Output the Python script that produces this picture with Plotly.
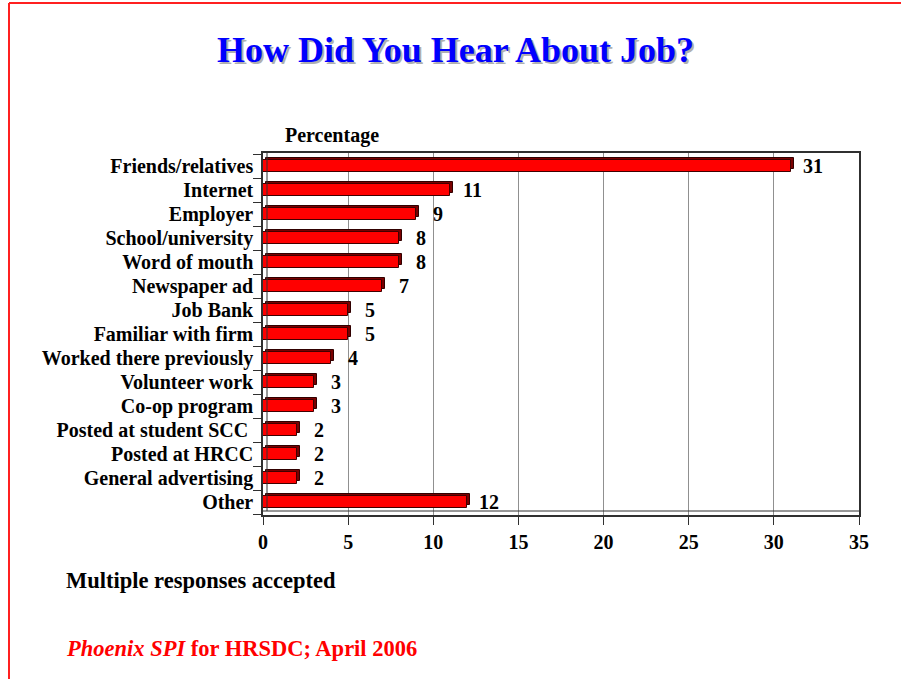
import plotly.graph_objects as go

# Survey responses: how respondents heard about the job (percent, multiple responses)
categories = [
    "Friends/relatives", "Internet", "Employer", "School/university",
    "Word of mouth", "Newspaper ad", "Job Bank", "Familiar with firm",
    "Worked there previously", "Volunteer work", "Co-op program",
    "Posted at student SCC ", "Posted at HRCC", "General advertising", "Other",
]
percentages = [31, 11, 9, 8, 8, 7, 5, 5, 4, 3, 3, 2, 2, 2, 12]
x_ticks = [0, 5, 10, 15, 20, 25, 30, 35]

W, H = 901, 679
M_L, M_R, M_T, M_B = 263, 42, 153, 164
PW, PH = W - M_L - M_R, H - M_T - M_B

def px_x(p):
    return (p - M_L) / PW

def px_y(p):
    return 1 - (p - M_T) / PH

SERIF = "Liberation Serif"
DEPTH_X = 0.18   # depth of the 3-D face, in axis units
DEPTH_Y = 0.12   # depth of the 3-D face, in category units

fig = go.Figure()

# dark top/side face of each bar
fig.add_trace(go.Bar(
    y=categories, x=percentages, base=DEPTH_X, orientation="h",
    width=0.46, offset=-0.23 - DEPTH_Y,
    marker=dict(color="#7a0000", line=dict(color="#300000", width=1)),
    hoverinfo="skip", showlegend=False,
))
# front face
fig.add_trace(go.Bar(
    y=categories, x=percentages, orientation="h",
    width=0.46, offset=-0.23,
    marker=dict(color="#ff0000", line=dict(color="#400000", width=1)),
    showlegend=False,
))

annotations = []
for cat, val in zip(categories, percentages):
    annotations.append(dict(
        x=val, y=cat, xref="x", yref="y", text=f"<b>{val}</b>",
        showarrow=False, xanchor="center", yanchor="middle", xshift=22,
        font=dict(family=SERIF, size=20, color="black"),
    ))

# title with soft drop shadow
title = "<b>How Did You Hear About Job?</b>"
for dx, dy, col in [(2, -2, "#b0b0b0"), (0, 0, "#0000ff")]:
    annotations.append(dict(
        x=px_x(455), y=px_y(50), xref="paper", yref="paper", text=title,
        showarrow=False, xanchor="center", yanchor="middle",
        xshift=dx, yshift=dy,
        font=dict(family=SERIF, size=36, color=col),
    ))

annotations += [
    dict(x=px_x(283), y=px_y(135), xref="paper", yref="paper",
         text="<b>Percentage</b>", showarrow=False, xanchor="left", yanchor="middle",
         font=dict(family=SERIF, size=20, color="black")),
    dict(x=px_x(64), y=px_y(580), xref="paper", yref="paper",
         text="<b>Multiple responses accepted</b>", showarrow=False,
         xanchor="left", yanchor="middle",
         font=dict(family=SERIF, size=22.5, color="black")),
    dict(x=px_x(64), y=px_y(648), xref="paper", yref="paper",
         text="<b><i>Phoenix SPI</i> for HRSDC; April 2006</b>", showarrow=False,
         xanchor="left", yanchor="middle",
         font=dict(family=SERIF, size=22.5, color="#ff0000")),
]

shapes = [
    # slide frame
    dict(type="line", xref="paper", yref="paper", x0=px_x(9), x1=px_x(W + 5),
         y0=px_y(3), y1=px_y(3), line=dict(color="#ff2020", width=2)),
    dict(type="line", xref="paper", yref="paper", x0=px_x(9), x1=px_x(9),
         y0=px_y(3), y1=px_y(H + 5), line=dict(color="#ff2020", width=2)),
    # floor edge below the plot area
    dict(type="line", xref="paper", yref="paper", x0=0, x1=1,
         y0=px_y(M_T + PH - 4), y1=px_y(M_T + PH - 4),
         line=dict(color="#303030", width=1)),
    dict(type="line", xref="paper", yref="paper", x0=px_x(M_L + 4), x1=px_x(M_L + 4),
         y0=px_y(M_T + PH - 4), y1=1, line=dict(color="#303030", width=1)),
]

fig.update_layout(
    width=W, height=H,
    margin=dict(l=M_L, r=M_R, t=M_T, b=M_B, pad=0),
    paper_bgcolor="white", plot_bgcolor="white",
    barmode="overlay", bargap=0,
    annotations=annotations, shapes=shapes,
    xaxis=dict(
        range=[0, 35], tickvals=x_ticks, ticktext=[f"<b>{t}</b>" for t in x_ticks],
        showgrid=True, gridcolor="#909090", gridwidth=1, zeroline=False,
        showline=True, linecolor="#303030", linewidth=1.5, mirror=True,
        ticks="outside", ticklen=8, tickcolor="#303030",
        tickfont=dict(family=SERIF, size=20, color="black"),
        fixedrange=True,
    ),
    yaxis=dict(
        autorange="reversed", type="category",
        tickvals=categories, ticktext=[f"<b>{c}</b>" for c in categories],
        showgrid=False, zeroline=False,
        showline=True, linecolor="#303030", linewidth=1.5, mirror=True,
        ticks="outside", ticklen=8, tickcolor="#303030", tickson="boundaries",
        ticklabelstandoff=4,
        tickfont=dict(family=SERIF, size=20, color="black"),
        fixedrange=True,
    ),
)

fig.write_html("out.html")
